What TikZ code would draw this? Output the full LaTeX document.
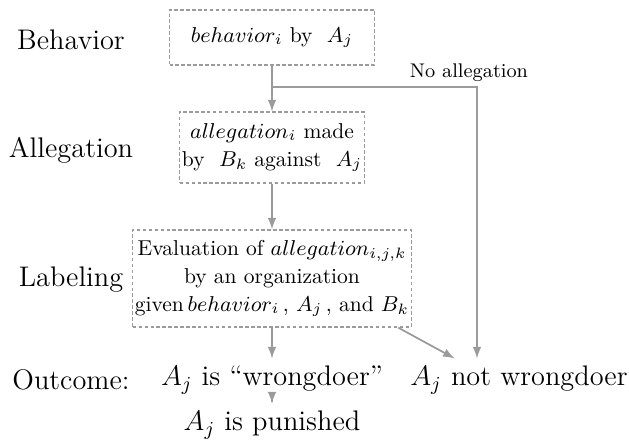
\documentclass[tikz,border=0pt]{standalone}
\usepackage{fix-cm}
\usetikzlibrary{arrows}

\definecolor{linegray}{RGB}{155,155,155}
\newcommand{\boxsize}{\fontsize{9.8}{12.6}\selectfont}
\newcommand{\rowsize}{\fontsize{12.9}{15.5}\selectfont}
\newcommand{\notesize}{\fontsize{9}{11}\selectfont}

\begin{document}
\begin{tikzpicture}[scale=1,
    stagebox/.style={draw=linegray, dashed, dash pattern=on 1.6pt off 1.1pt, line width=0.6pt, align=center, inner sep=1pt, font=\boxsize},
    rowlabel/.style={font=\rowsize},
    flow/.style={-latex, draw=linegray, line width=0.8pt}]
            \useasboundingbox (0,0) rectangle (10.064,7.088);
            % row labels
            \node[rowlabel] (lbeh) at (1.136,6.448) {Behavior};
            \node[rowlabel] (lall) at (1.136,4.688) {Allegation};
            \node[rowlabel] (llab) at (1.136,2.608) {Labeling};
            \node[rowlabel] (lout) at (1.136,1.008) {Outcome:};
            % stages
            \node[stagebox, minimum width=3.28cm, minimum height=0.88cm] (beh) at (4.352,6.488) {$behavior_i$ by \ $A_j$};
            \node[stagebox, minimum width=2.816cm, minimum height=1.136cm] (all) at (4.352,4.728) {$allegation_i$ made\\ by \ $B_k$ against \ $A_j$};
            \node[stagebox, minimum width=4.32cm, minimum height=1.552cm] (lab) at (4.352,2.632) {Evaluation of $allegation_{i,j,k}$\\ by an organization\\ given\,$behavior_i$\,, $A_j$\,, and $B_k$};
            % outcomes
            \node[rowlabel] (wrong) at (4.352,1.008) {$A_j$ is ``wrongdoer''};
            \node[rowlabel] (notwrong) at (8.304,1.008) {$A_j$ not wrongdoer};
            \node[rowlabel] (pun) at (4.352,0.288) {$A_j$ is punished};
            \coordinate (split) at (beh.south |- 0,5.696);
            \coordinate (noall) at (7.632,5.696);
            \node[font=\notesize] (nolab) at (7.504,5.92) {No allegation};
            \draw[flow] (beh.south) -- (all.north);
            \draw[flow] (all.south) -- (lab.north);
            \draw[flow] (lab.south) -- (wrong.north);
            \draw[flow] (wrong.south) -- (pun.north);
            \draw[flow] (split) -- (noall) -- (noall |- notwrong.north);
            \draw[flow] ([xshift=-0.22cm]lab.south east) -- ([xshift=0.83cm]notwrong.north west);
        \end{tikzpicture}
\end{document}
